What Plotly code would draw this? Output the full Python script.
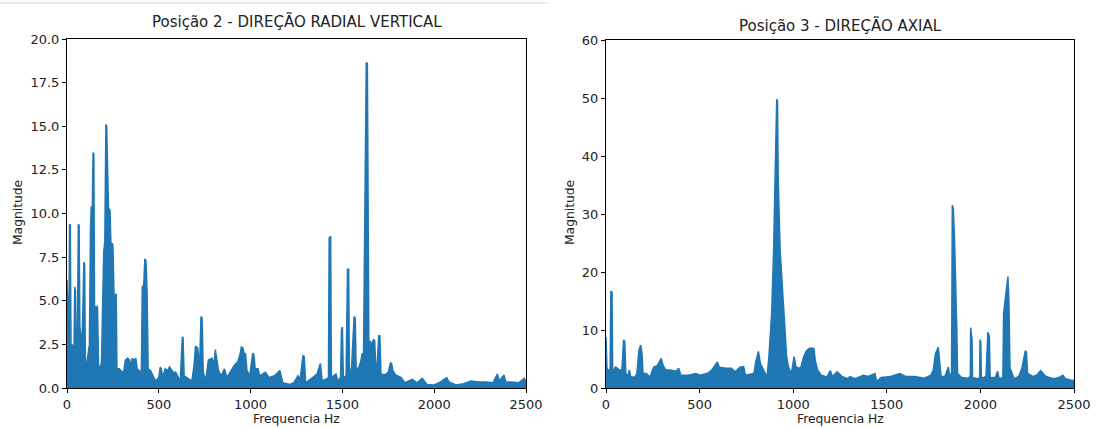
import plotly.graph_objects as go

# ---------------- data ----------------
L_FREQ = [0, 5, 10, 14, 18, 22, 30, 38, 42, 46, 50, 56, 62, 66, 70, 76, 82, 92, 96, 100,
          108, 114, 122, 128, 132, 138, 142, 146, 150, 158, 166, 172, 180, 188, 195, 200,
          206, 212, 216, 220, 226, 234, 240, 246, 250, 256, 262, 268, 272, 285, 300, 310,
          318, 330, 342, 348, 355, 365, 375, 382, 395, 405, 410, 418, 424, 430, 436, 442,
          455, 470, 482, 500, 508, 514, 520, 535, 548, 558, 566, 578, 592, 605, 617, 628,
          632, 638, 650, 680, 692, 700, 712, 722, 730, 736, 742, 755, 770, 790, 800, 808,
          815, 825, 840, 858, 870, 895, 912, 930, 942, 950, 958, 966, 972, 980, 995, 1012,
          1018, 1025, 1040, 1050, 1080, 1100, 1130, 1160, 1175, 1215, 1235, 1258, 1270,
          1285, 1292, 1300, 1340, 1362, 1380, 1390, 1410, 1424, 1428, 1436, 1440, 1465,
          1475, 1490, 1495, 1500, 1505, 1520, 1528, 1534, 1538, 1550, 1564, 1570, 1575,
          1590, 1600, 1608, 1615, 1630, 1636, 1640, 1644, 1650, 1660, 1670, 1676, 1682,
          1690, 1698, 1704, 1710, 1730, 1750, 1762, 1768, 1775, 1790, 1820, 1840, 1880,
          1905, 1935, 1960, 2000, 2035, 2068, 2080, 2120, 2160, 2200, 2240, 2280, 2320,
          2344, 2355, 2380, 2390, 2420, 2460, 2490, 2500]
L_MAG = [6.2, 5.0, 3.0, 9.4, 9.3, 1.8, 2.5, 1.8, 5.8, 5.6, 2.2, 2.4, 9.4, 9.3, 3.5, 3.0,
         2.5, 7.2, 7.1, 1.2, 1.5, 1.9, 2.5, 9.0, 10.4, 10.3, 13.5, 13.4, 4.7, 4.6, 4.7, 1.3,
         1.1, 1.5, 5.5, 7.8, 8.4, 15.1, 15.0, 13.6, 10.3, 10.2, 8.0, 8.3, 8.2, 5.3, 5.3,
         5.4, 1.1, 1.1, 0.9, 1.0, 1.6, 1.7, 1.6, 1.1, 1.7, 1.6, 1.7, 1.1, 1.0, 0.9, 5.8,
         5.9, 7.4, 7.3, 5.6, 1.1, 1.0, 0.7, 0.4, 0.6, 1.2, 1.1, 0.6, 1.1, 1.0, 1.2, 1.1,
         0.9, 0.9, 0.6, 0.4, 2.9, 2.9, 0.7, 0.6, 0.4, 1.3, 2.4, 2.3, 1.1, 4.1, 4.0, 0.9,
         0.4, 1.6, 1.7, 1.3, 2.2, 1.7, 1.0, 0.7, 1.1, 0.6, 1.0, 1.3, 1.5, 1.9, 2.35, 2.3,
         1.9, 2.0, 1.0, 0.7, 2.0, 1.9, 1.1, 1.1, 0.7, 0.9, 0.6, 0.7, 1.0, 0.3, 0.2, 0.3,
         0.7, 0.5, 1.85, 1.8, 0.3, 0.6, 0.8, 1.4, 0.4, 0.5, 0.6, 8.6, 8.7, 0.6, 0.8, 0.4,
         0.6, 3.3, 3.5, 0.6, 0.7, 6.8, 6.8, 0.7, 1.2, 4.1, 4.0, 1.0, 1.2, 1.5, 2.0, 1.9,
         18.65, 18.6, 9.0, 2.5, 2.7, 2.5, 2.8, 2.7, 1.0, 1.5, 3.0, 3.0, 0.8, 0.75, 0.9,
         1.45, 1.4, 1.0, 0.75, 0.6, 0.3, 0.5, 0.3, 0.55, 0.2, 0.17, 0.35, 0.6, 0.35, 0.17,
         0.25, 0.4, 0.35, 0.35, 0.3, 0.8, 0.4, 0.75, 0.35, 0.35, 0.3, 0.55, 0.4]

R_FREQ = [0, 5, 12, 22, 26, 32, 36, 50, 62, 75, 85, 94, 100, 106, 118, 125, 132, 155, 165,
          176, 185, 192, 198, 215, 235, 255, 275, 295, 305, 320, 345, 375, 388, 400, 440,
          480, 500, 540, 565, 580, 595, 605, 640, 670, 690, 715, 735, 745, 790, 800, 814,
          825, 840, 860, 870, 885, 895, 905, 912, 916, 920, 930, 940, 950, 958, 965, 975,
          990, 1005, 1015, 1040, 1055, 1070, 1085, 1099, 1111, 1118, 1130, 1150, 1180,
          1198, 1210, 1235, 1260, 1290, 1303, 1330, 1375, 1400, 1437, 1445, 1470, 1520,
          1570, 1600, 1650, 1700, 1735, 1748, 1760, 1775, 1782, 1790, 1810, 1829, 1835,
          1846, 1850, 1855, 1862, 1869, 1874, 1878, 1900, 1935, 1946, 1948, 1955, 1958,
          1985, 1996, 1998, 2002, 2005, 2030, 2040, 2048, 2052, 2080, 2092, 2100, 2120,
          2124, 2136, 2147, 2152, 2158, 2180, 2205, 2222, 2232, 2240, 2246, 2252, 2280,
          2300, 2322, 2350, 2390, 2420, 2440, 2455, 2480, 2500]
R_MAG = [8.8, 3.5, 3.0, 3.2, 16.7, 16.5, 2.5, 3.6, 3.4, 3.0, 3.2, 8.3, 8.0, 2.5, 2.2, 3.1,
         1.9, 1.9, 2.5, 6.5, 7.4, 6.0, 2.5, 2.5, 1.9, 3.6, 3.9, 5.1, 3.9, 3.1, 3.1, 2.9,
         3.4, 2.2, 2.2, 2.5, 2.2, 2.5, 3.1, 3.9, 4.5, 3.6, 3.4, 3.4, 2.8, 3.6, 3.7, 2.2,
         2.5, 4.5, 6.3, 4.2, 3.1, 1.9, 5.3, 12.9, 23.2, 39.0, 49.8, 49.5, 35.9, 23.8, 18.5,
         12.8, 8.2, 5.3, 3.6, 2.5, 5.4, 3.6, 3.4, 5.3, 6.4, 6.8, 6.9, 6.8, 4.7, 3.1, 2.2,
         1.9, 3.0, 2.0, 2.8, 2.0, 1.6, 1.95, 1.6, 2.2, 2.0, 2.5, 1.1, 1.8, 2.0, 2.5, 2.0,
         2.0, 1.7, 2.2, 3.1, 5.9, 7.0, 4.8, 2.0, 2.0, 3.6, 2.2, 2.5, 31.5, 31.0, 25.5, 18.0,
         10.0, 2.5, 1.8, 1.7, 2.0, 10.4, 8.3, 1.8, 1.6, 1.8, 8.3, 8.0, 1.7, 2.0, 9.6, 8.9,
         1.8, 1.8, 2.9, 1.6, 1.8, 12.9, 16.5, 19.2, 15.2, 3.5, 1.6, 2.0, 3.5, 4.9, 6.4, 6.2,
         2.5, 2.0, 2.2, 3.0, 2.0, 1.6, 1.8, 2.2, 1.6, 1.4, 1.3]

TITLES = ["Posição 2 - DIREÇÃO RADIAL VERTICAL", "Posição 3 - DIREÇÃO AXIAL"]
X_LABEL = "Frequencia Hz"
Y_LABEL = "Magnitude"
X_TICKS = [0, 500, 1000, 1500, 2000, 2500]
L_YTICKS = [0, 2.5, 5, 7.5, 10, 12.5, 15, 17.5, 20]
L_YTICKTEXT = ["0.0", "2.5", "5.0", "7.5", "10.0", "12.5", "15.0", "17.5", "20.0"]
R_YTICKS = [0, 10, 20, 30, 40, 50, 60]

# ---------------- figure ----------------
W, H = 1097, 428
BLUE = "#1f77b4"
FONT = "DejaVu Sans"
TXT = "#222222"

fig = go.Figure()
fig.add_trace(go.Scatter(x=L_FREQ, y=L_MAG, mode="lines", xaxis="x", yaxis="y",
                         line=dict(color=BLUE, width=1.5), fill="tozeroy",
                         fillcolor=BLUE, hoverinfo="skip"))
fig.add_trace(go.Scatter(x=R_FREQ, y=R_MAG, mode="lines", xaxis="x2", yaxis="y2",
                         line=dict(color=BLUE, width=1.5), fill="tozeroy",
                         fillcolor=BLUE, hoverinfo="skip"))

def px_x(p):
    return p / W

def px_y(p):
    return 1 - p / H

common = dict(showgrid=False, zeroline=False, showline=True, linecolor="black",
              linewidth=1, mirror=True, ticks="outside", ticklen=4, tickcolor="black",
              tickwidth=1, automargin=False,
              tickfont=dict(family=FONT, size=13, color=TXT))

LX = [px_x(67), px_x(526)]
RX = [px_x(606), px_x(1074)]
LY = [px_y(388), px_y(39)]
RY = [px_y(388), px_y(40)]

fig.update_layout(
    template="none",
    width=W, height=H, margin=dict(l=0, r=0, t=0, b=0, pad=0, autoexpand=False),
    paper_bgcolor="white", plot_bgcolor="white", showlegend=False,
    font=dict(family=FONT, color=TXT),
    xaxis=dict(domain=LX, range=[0, 2500], tickvals=X_TICKS, anchor="y", **common),
    yaxis=dict(domain=LY, range=[0, 20], tickvals=L_YTICKS, ticktext=L_YTICKTEXT,
               anchor="x", **common),
    xaxis2=dict(domain=RX, range=[0, 2500], tickvals=X_TICKS, anchor="y2", **common),
    yaxis2=dict(domain=RY, range=[0, 60], tickvals=R_YTICKS, anchor="x2", **common),
)

ann = []
for cx, ty, title, ylx in [((67 + 526) / 2, 22, TITLES[0], 18), ((606 + 1074) / 2, 25, TITLES[1], 570)]:
    ann.append(dict(x=px_x(cx), y=px_y(ty), xref="paper", yref="paper", text=title,
                    showarrow=False, xanchor="center", yanchor="middle",
                    font=dict(family=FONT, size=15, color=TXT)))
    ann.append(dict(x=px_x(cx), y=px_y(419), xref="paper", yref="paper", text=X_LABEL,
                    showarrow=False, xanchor="center", yanchor="middle",
                    font=dict(family=FONT, size=12.3, color=TXT)))
    ann.append(dict(x=px_x(ylx), y=px_y(213), xref="paper", yref="paper", text=Y_LABEL,
                    showarrow=False, xanchor="center", yanchor="middle", textangle=-90,
                    font=dict(family=FONT, size=12.3, color=TXT)))
fig.update_layout(annotations=ann)

fig.add_shape(type="line", xref="paper", yref="paper", x0=0, x1=px_x(548),
              y0=px_y(3), y1=px_y(3), line=dict(color="#ebebeb", width=2))

fig.write_html("out.html")
